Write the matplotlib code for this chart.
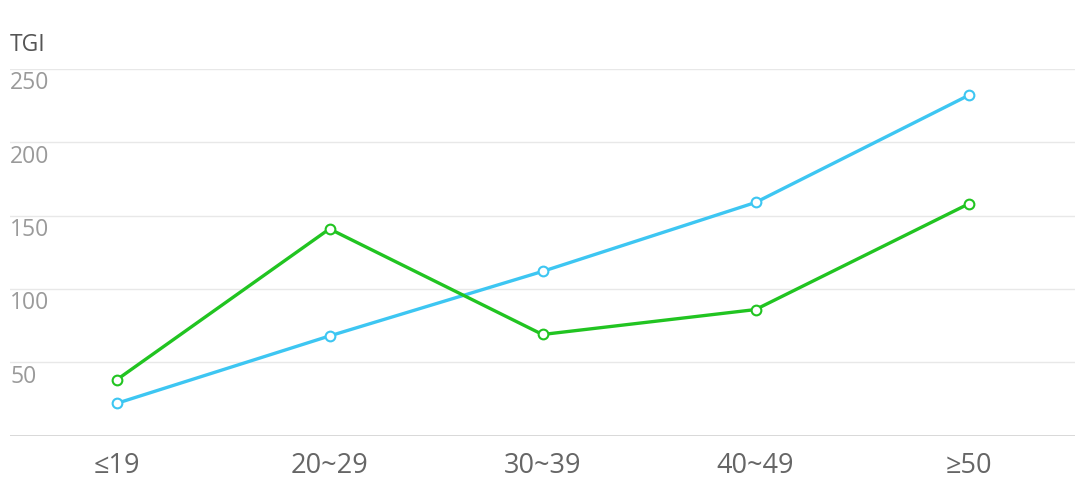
import matplotlib
matplotlib.use("Agg")
import matplotlib.pyplot as plt

categories = ["≤19", "20~29", "30~39", "40~49", "≥50"]
series_blue = [22, 68, 112, 159, 232]
series_green = [38, 141, 69, 86, 158]
y_ticks = [0, 50, 100, 150, 200, 250]
y_tick_labels = ["", "50", "100", "150", "200", "250"]

plt.rcParams['font.family'] = ['Open Sans', 'DejaVu Sans']

W, H = 1080, 491
fig = plt.figure(figsize=(W / 100, H / 100), dpi=100)
ax = fig.add_axes([10 / W, (H - 435.7) / H, (1075 - 10) / W, (435.7 - 69) / H])

x = list(range(len(categories)))
ax.set_xlim(-0.5, len(categories) - 0.5)
ax.set_ylim(0, 250)

for yt in y_ticks[1:]:
    ax.axhline(yt, color="#e8e8e8", lw=1.0, zorder=0)
ax.axhline(0, color="#d6d6d6", lw=1.3, zorder=1)

ax.plot(x, series_blue, color="#3dc6f2", lw=2.4, marker="o", markersize=7,
        markerfacecolor="white", markeredgecolor="#3dc6f2", markeredgewidth=1.5,
        zorder=3, solid_capstyle="round")
ax.plot(x, series_green, color="#21c421", lw=2.4, marker="o", markersize=7,
        markerfacecolor="white", markeredgecolor="#21c421", markeredgewidth=1.5,
        zorder=3, solid_capstyle="round")

for s in ax.spines.values():
    s.set_visible(False)
ax.set_yticks([])
ax.set_xticks(x)
ax.set_xticklabels(categories, fontsize=19.5, color="#666666")
ax.tick_params(axis="x", length=0, pad=12)

for yt, lab in zip(y_ticks, y_tick_labels):
    if lab:
        ax.text(0.0, yt - 1.5, lab, transform=ax.get_yaxis_transform(),
                ha="left", va="top", fontsize=16.5, color="#9a9a9a")

fig.text(10 / W, 1 - 45 / H, "TGI", ha="left", va="center", fontsize=16.5, color="#555555")

fig.savefig("out.png", dpi=100, facecolor="white")
